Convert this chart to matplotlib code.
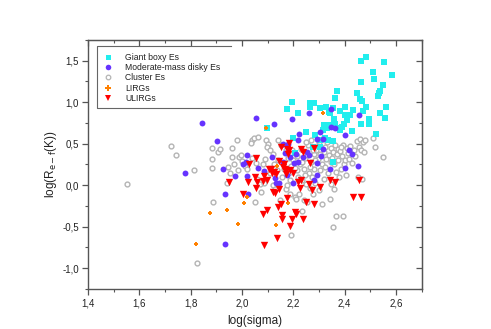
import matplotlib
matplotlib.use('Agg')
import matplotlib.pyplot as plt
from matplotlib.ticker import MultipleLocator, FuncFormatter
from matplotlib.lines import Line2D

plt.rcParams['font.family'] = ['Liberation Sans', 'DejaVu Sans']

# ---------------- data ----------------
giant_x = [2.484, 2.465, 2.551, 2.510, 2.513, 2.584, 2.548, 2.539, 2.534, 2.530, 2.465, 2.448,
           2.370, 2.363, 2.461, 2.469, 2.484, 2.561, 2.473, 2.536, 2.558, 2.494, 2.495, 2.463,
           2.523, 2.428, 2.176, 2.196, 2.220, 2.266, 2.281, 2.266, 2.302, 2.327, 2.353, 2.383,
           2.403, 2.431, 2.422, 2.400, 2.410, 2.344, 2.357, 2.318, 2.337, 2.315, 2.363, 2.370,
           2.389, 2.396, 2.380, 2.286, 2.249, 2.302, 2.324, 2.356, 2.335, 2.305, 2.276, 2.355,
           2.206, 2.197, 2.097, 2.340, 2.330]
giant_y = [1.548, 1.496, 1.484, 1.363, 1.283, 1.327, 1.207, 1.138, 1.105, 1.078, 1.243, 1.106,
           1.138, 1.046, 1.038, 1.010, 0.945, 0.945, 0.893, 0.873, 0.805, 0.797, 0.736, 0.736,
           0.616, 0.656, 0.921, 1.006, 0.873, 0.986, 0.994, 0.945, 0.925, 0.937, 0.925, 0.897,
           0.937, 0.905, 0.845, 0.845, 0.785, 0.865, 0.797, 0.724, 0.720, 0.664, 0.736, 0.684,
           0.704, 0.736, 0.664, 0.604, 0.636, 0.543, 0.563, 0.535, 0.543, 0.463, 0.463, 0.274,
           0.383, 0.572, 0.692, 0.880, 0.690]

disky_x = [1.845, 1.778, 1.904, 1.925, 1.932, 1.932, 1.971, 2.002, 2.015, 2.021, 2.021, 2.023,
           2.055, 2.062, 2.084, 2.125, 2.118, 2.130, 2.133, 2.146, 2.158, 2.166, 2.178, 2.186,
           2.175, 2.196, 2.204, 2.217, 2.217, 2.223, 2.200, 2.237, 2.252, 2.259, 2.259, 2.291,
           2.291, 2.294, 2.302, 2.309, 2.315, 2.315, 2.279, 2.346, 2.347, 2.343, 2.361, 2.402,
           2.402, 2.415, 2.428, 2.450, 2.457, 2.160, 2.210]
disky_y = [0.744, 0.150, 0.531, 0.194, -0.100, -0.703, 0.109, 0.250, 0.274, 0.363, 0.113, -0.100,
           0.805, 0.202, 0.174, 0.736, 0.342, 0.081, 0.021, 0.029, 0.282, 0.391, 0.491, 0.342,
           0.121, 0.797, 0.270, 0.274, 0.543, 0.616, 0.029, 0.342, 0.403, 0.865, 0.363, 0.551,
           0.270, 0.121, 0.644, 0.355, 0.551, 0.435, 0.061, 0.913, 0.696, 0.190, 0.684, 0.604,
           0.202, 0.423, 0.371, 0.234, 0.849, 0.500, 0.380]

cluster_x = [1.552, 1.724, 1.742, 1.813, 1.823, 1.889, 1.882, 1.883, 1.883, 1.905, 1.915, 1.945,
             1.960, 1.962, 1.967, 1.954, 1.940, 1.980, 1.990, 1.995, 2.000, 2.010, 1.985, 2.038,
             2.047, 2.064, 2.034, 2.051, 2.075, 2.071, 2.040, 2.055, 2.080, 2.090, 2.094, 2.100,
             2.098, 2.110, 2.120, 2.125, 2.135, 2.140, 2.149, 2.155, 2.165, 2.170, 2.175, 2.180,
             2.185, 2.190, 2.192, 2.195, 2.200, 2.205, 2.210, 2.215, 2.220, 2.222, 2.225, 2.230,
             2.232, 2.235, 2.240, 2.242, 2.245, 2.250, 2.255, 2.258, 2.262, 2.265, 2.270, 2.272,
             2.275, 2.280, 2.282, 2.285, 2.290, 2.295, 2.298, 2.300, 2.305, 2.311, 2.312, 2.318,
             2.320, 2.325, 2.328, 2.332, 2.335, 2.338, 2.341, 2.345, 2.348, 2.350, 2.353, 2.355,
             2.358, 2.360, 2.362, 2.366, 2.368, 2.372, 2.375, 2.378, 2.382, 2.385, 2.390, 2.393,
             2.395, 2.398, 2.402, 2.405, 2.408, 2.412, 2.418, 2.422, 2.428, 2.435, 2.440, 2.448,
             2.452, 2.455, 2.458, 2.462, 2.466, 2.470, 2.475, 2.510, 2.516, 2.548, 2.480, 2.140,
             2.150, 2.160, 2.170, 2.180, 2.185, 2.195, 2.205, 2.215, 2.225, 2.235, 2.245, 2.255,
             2.265, 2.275, 2.285, 2.305, 2.325, 2.345, 2.365, 2.385, 2.295, 2.310, 2.250, 2.270,
             2.020, 2.060, 2.085, 2.110, 2.120, 2.130]
cluster_y = [0.013, 0.471, 0.359, 0.182, -0.932, -0.200, 0.451, 0.318, 0.202, 0.399, 0.431, 0.222,
             0.443, 0.342, 0.250, 0.150, 0.030, 0.543, 0.334, 0.363, 0.290, 0.230, 0.180, 0.543,
             0.563, 0.584, 0.503, -0.208, -0.080, 0.009, 0.330, 0.270, 0.250, 0.320, 0.540, 0.500,
             0.460, 0.430, 0.380, 0.260, 0.180, 0.300, -0.180, 0.100, 0.200, -0.050, 0.000, 0.150,
             -0.100, 0.230, -0.602, 0.420, 0.300, -0.140, -0.170, 0.180, 0.100, -0.110, 0.250, 0.440,
             -0.310, 0.060, 0.200, -0.180, 0.330, 0.020, -0.200, 0.480, 0.150, -0.030, 0.280, 0.100,
             -0.100, 0.380, 0.200, 0.030, 0.430, 0.320, -0.060, 0.500, 0.180, -0.232, 0.260, 0.400,
             0.080, 0.460, 0.310, 0.520, 0.150, 0.370, -0.168, 0.450, 0.020, 0.330, -0.502, 0.400,
             -0.040, 0.250, 0.490, -0.373, 0.380, 0.300, 0.440, 0.100, 0.410, 0.200, 0.350, -0.373,
             0.480, 0.260, 0.300, 0.121, 0.450, 0.390, 0.320, 0.470, 0.270, 0.420, 0.350, 0.530,
             0.100, 0.460, 0.560, 0.430, 0.080, 0.520, 0.400, 0.563, 0.463, 0.342, 0.540, 0.550,
             0.480, 0.260, 0.420, 0.330, 0.060, 0.160, 0.210, 0.350, 0.080, 0.280, 0.120, 0.360,
             0.220, 0.430, 0.300, 0.380, 0.220, 0.280, 0.160, 0.460, 0.550, 0.560, 0.520, 0.540,
             0.200, 0.070, 0.030, 0.150, 0.000, -0.050]

lirg_x = [1.820, 1.876, 1.941, 1.984, 2.006, 2.019, 2.093, 2.132, 2.180, 2.315, 2.136]
lirg_y = [-0.703, -0.333, -0.300, -0.470, -0.220, -0.140, 0.692, -0.482, -0.220, 0.865, 0.233]

ulirg_x = [2.055, 2.027, 2.025, 2.050, 2.060, 2.055, 2.003, 1.951, 2.081, 2.097, 2.084, 2.097,
           2.083, 2.105, 2.112, 2.125, 2.132, 2.120, 2.130, 2.140, 2.150, 2.138, 2.145, 2.143,
           2.153, 2.160, 2.163, 2.166, 2.172, 2.155, 2.157, 2.175, 2.182, 2.182, 2.177, 2.188,
           2.188, 2.196, 2.205, 2.211, 2.218, 2.228, 2.230, 2.236, 2.227, 2.237, 2.249, 2.266,
           2.259, 2.272, 2.279, 2.279, 2.302, 2.341, 2.361, 2.432, 2.465, 2.457, 2.180, 2.170,
           2.200, 2.085, 2.115]
ulirg_y = [0.330, 0.250, 0.041, 0.100, 0.040, -0.030, -0.108, 0.041, -0.341, -0.293, -0.715, 0.061,
           0.055, 0.190, 0.190, 0.160, 0.140, -0.080, -0.090, -0.260, -0.230, -0.630, -0.040, 0.290,
           0.463, 0.220, 0.250, 0.200, 0.170, -0.357, -0.401, 0.440, 0.510, 0.420, -0.148, 0.180,
           -0.490, -0.401, -0.321, -0.349, 0.040, 0.060, 0.440, 0.400, -0.030, -0.401, -0.204, 0.270,
           0.020, -0.060, -0.229, 0.447, -0.020, 0.061, 0.041, -0.140, -0.140, 0.061, 0.380, 0.130,
           0.150, 0.110, 0.150]

labels = ['Giant boxy Es', 'Moderate-mass disky Es', 'Cluster Es', 'LIRGs', 'ULIRGs']

# ---------------- figure ----------------
fig = plt.figure(figsize=(4.91, 3.29), dpi=100)
ax = fig.add_axes([0.179, 0.1216, 0.680, 0.757])

c_giant = '#22EEEE'
c_disky = '#6633FF'
c_clus = '#B4B4B4'
c_lirg = '#FF8000'
c_ulirg = '#FF0000'

ax.scatter(cluster_x, cluster_y, s=12, facecolors='white', edgecolors=c_clus, linewidths=1.0, zorder=2)
ax.scatter(giant_x, giant_y, s=18, marker='s', color=c_giant, linewidths=0, zorder=3)
ax.scatter(disky_x, disky_y, s=18, marker='o', color=c_disky, linewidths=0, zorder=4)
ax.scatter(lirg_x, lirg_y, s=10, marker='P', color=c_lirg, linewidths=0, zorder=5)
ax.scatter(ulirg_x, ulirg_y, s=28, marker='v', color=c_ulirg, linewidths=0, zorder=6)

ax.set_xlim(1.4, 2.7)
ax.set_ylim(-1.25, 1.75)

def comma(v, pos):
    if abs(v) < 1e-9:
        v = 0.0
    return f'{v:.1f}'.replace('.', ',')

ax.xaxis.set_major_locator(MultipleLocator(0.2))
ax.xaxis.set_minor_locator(MultipleLocator(0.1))
ax.yaxis.set_major_locator(MultipleLocator(0.5))
ax.yaxis.set_minor_locator(MultipleLocator(0.25))
ax.xaxis.set_major_formatter(FuncFormatter(comma))
ax.yaxis.set_major_formatter(FuncFormatter(comma))

spc = '#555555'
for s in ax.spines.values():
    s.set_color(spc)
    s.set_linewidth(1.0)
ax.tick_params(which='major', direction='out', length=4, width=0.9, color=spc,
               labelsize=7, pad=2.5, labelcolor='#222222')
ax.tick_params(which='minor', direction='out', length=2.5, width=0.8, color=spc)

top = ax.secondary_xaxis('top')
top.xaxis.set_major_locator(MultipleLocator(0.2))
top.xaxis.set_minor_locator(MultipleLocator(0.1))
top.tick_params(which='major', direction='in', length=4, width=0.9, color=spc, labeltop=False)
top.tick_params(which='minor', direction='in', length=2.5, width=0.8, color=spc)
top.spines['top'].set_color(spc)

right = ax.secondary_yaxis('right')
right.yaxis.set_major_locator(MultipleLocator(0.5))
right.yaxis.set_minor_locator(MultipleLocator(0.25))
right.tick_params(which='major', direction='in', length=4, width=0.9, color=spc, labelright=False)
right.tick_params(which='minor', direction='in', length=2.5, width=0.8, color=spc)
right.spines['right'].set_color(spc)

ax.set_xlabel('log(sigma)', fontsize=8.5, labelpad=5, color='#222222')
ax.set_ylabel(r'log(R$_{\rm e-f}$(K))', fontsize=8.5, labelpad=2, color='#222222')

# legend
handles = [
    Line2D([], [], ls='none', marker='s', ms=3.6, color=c_giant, mew=0),
    Line2D([], [], ls='none', marker='o', ms=4.0, color=c_disky, mew=0),
    Line2D([], [], ls='none', marker='o', ms=3.3, mfc='white', mec=c_clus, mew=0.9),
    Line2D([], [], ls='none', marker='P', ms=4.5, color=c_lirg, mew=0),
    Line2D([], [], ls='none', marker='v', ms=4.5, color=c_ulirg, mew=0),
]
leg = ax.legend(handles, labels, loc='upper left', bbox_to_anchor=(0.040, 0.955),
                frameon=False, fontsize=6.2, labelspacing=0.15, handletextpad=1.4,
                handlelength=1.2, borderaxespad=0, borderpad=0.2)
for t in leg.get_texts():
    t.set_color('#222222')

# legend frame (top, left, bottom only)
fc = '#666666'
ax.plot([0.428, 0.027, 0.027, 0.428], [0.976, 0.976, 0.727, 0.727],
        transform=ax.transAxes, color=fc, lw=0.8, clip_on=False, zorder=7)

fig.savefig('out.png', dpi=100)
